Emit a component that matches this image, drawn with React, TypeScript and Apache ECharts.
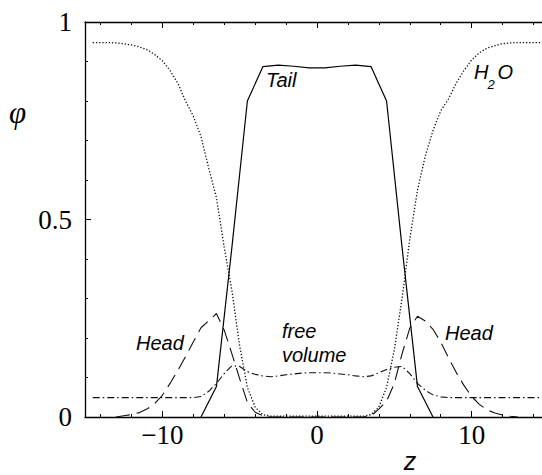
import React, { useEffect, useRef } from "react";
import * as echarts from "echarts";

// Shared z grid (nm-like units), step 0.5
const zGrid = [
  -14.5, -14, -13.5, -13, -12.5, -12, -11.5, -11, -10.5, -10, -9.5, -9, -8.5, -8, -7.5, -7, -6.5, -6, -5.5, -5,
  -4.5, -4, -3.5, -3, -2.5, -2, -1.5, -1, -0.5, 0, 0.5, 1, 1.5, 2, 2.5, 3, 3.5, 4, 4.5, 5,
  5.5, 6, 6.5, 7, 7.5, 8, 8.5, 9, 9.5, 10, 10.5, 11, 11.5, 12, 12.5, 13, 13.5, 14, 14.5,
];

const h2oPhi = [
  0.948, 0.948, 0.948, 0.947, 0.945, 0.942, 0.937, 0.93, 0.918, 0.902, 0.877, 0.845, 0.8, 0.762, 0.71, 0.63, 0.555, 0.43, 0.32, 0.18,
  0.075, 0.025, 0.006, 0.002, 0.002, 0.002, 0.002, 0.002, 0.002, 0.002, 0.002, 0.002, 0.002, 0.002, 0.002, 0.002, 0.006, 0.025, 0.075, 0.17,
  0.3, 0.45, 0.575, 0.66, 0.725, 0.775, 0.805, 0.845, 0.877, 0.904, 0.922, 0.934, 0.94, 0.945, 0.947, 0.948, 0.948, 0.948, 0.948,
];

const headPhi = [
  null, null, null, 0, 0.003, 0.006, 0.011, 0.02, 0.034, 0.055, 0.085, 0.118, 0.153, 0.19, 0.226, 0.244, 0.262, 0.22, 0.16, 0.097,
  0.037, 0.012, 0.003, 0, 0, 0, 0, 0, 0, 0, 0, 0, 0, 0, 0, 0, 0.003, 0.02, 0.04, 0.085,
  0.16, 0.225, 0.255, 0.243, 0.222, 0.19, 0.15, 0.113, 0.08, 0.052, 0.032, 0.018, 0.01, 0.005, 0.002, 0, null, null, null,
];

const freePhi = [
  0.049, 0.049, 0.049, 0.049, 0.049, 0.049, 0.049, 0.049, 0.049, 0.049, 0.049, 0.049, 0.049, 0.049, 0.052, 0.065, 0.085, 0.11, 0.13, 0.128,
  0.115, 0.108, 0.104, 0.102, 0.104, 0.107, 0.109, 0.111, 0.112, 0.112, 0.112, 0.111, 0.109, 0.107, 0.104, 0.102, 0.104, 0.112, 0.12, 0.126,
  0.128, 0.11, 0.085, 0.068, 0.056, 0.051, 0.049, 0.049, 0.049, 0.049, 0.049, 0.049, 0.049, 0.049, 0.049, 0.049, 0.049, 0.049, 0.049,
];

// Tail profile sampled at half-integers
const tailZ = [-7.5, -6.5, -5.5, -4.5, -3.5, -2.5, -1.5, -0.5, 0.5, 1.5, 2.5, 3.5, 4.5, 5.5, 6.5, 7.5];
const tailPhi = [0, 0.077, 0.43, 0.8, 0.887, 0.891, 0.888, 0.884, 0.884, 0.888, 0.891, 0.887, 0.8, 0.43, 0.077, 0];

const xMajor = [-10, 0, 10];
const xMinor = [-14, -12, -10, -8, -6, -4, -2, 0, 2, 4, 6, 8, 10, 12, 14];
const yMajor = [0, 0.5, 1];
const yMinor = [0, 0.1, 0.2, 0.3, 0.4, 0.5, 0.6, 0.7, 0.8, 0.9, 1];

const zip = (xs: number[], ys: (number | null)[]) =>
  xs.map((x, i) => [x, ys[i]]).filter((p) => p[1] !== null);

const SERIF = "'Liberation Serif', 'Times New Roman', serif";
const SANS = "'Liberation Sans', Arial, sans-serif";

export default function App() {
  const ref = useRef<HTMLDivElement>(null);
  useEffect(() => {
    if (!ref.current) return;
    const chart = echarts.init(ref.current, undefined, { renderer: "svg" });
    const axisLine = { show: true, onZero: false, lineStyle: { color: "#000", width: 1.3 } };
    const noLine = { show: false, onZero: false };
    const xBase = { type: "value", min: -15, max: 14.55, splitLine: { show: false } };
    const yBase = { type: "value", min: 0, max: 1, splitLine: { show: false } };
    const fmtX = (v: number) => (v < 0 ? "\u2212" + Math.abs(v) : String(v));
    const fmtY = (v: number) => (v === 0 ? "0" : v === 1 ? "1" : "0.5");
    const lbl = { fontFamily: SERIF, fontSize: 27, color: "#000" };
    const tick = (len: number, vals: number[]) => ({
      show: true,
      inside: true,
      length: len,
      customValues: vals,
      lineStyle: { color: "#000", width: 1 },
    });
    const ital = `italic 20px ${SANS}`;

    chart.setOption({
      animation: false,
      backgroundColor: "#fff",
      grid: { left: 85, top: 22, width: 457, height: 395 },
      xAxis: [
        {
          ...xBase,
          position: "bottom",
          axisLine,
          axisTick: tick(3, xMinor),
          axisLabel: { show: true, customValues: xMajor, formatter: fmtX, margin: 4, ...lbl },
        },
        { ...xBase, position: "bottom", axisLine: noLine, axisTick: tick(6, xMajor), axisLabel: { show: false } },
        { ...xBase, position: "top", axisLine, axisTick: tick(3, xMinor), axisLabel: { show: false } },
        { ...xBase, position: "top", axisLine: noLine, axisTick: tick(6, xMajor), axisLabel: { show: false } },
      ],
      yAxis: [
        {
          ...yBase,
          position: "left",
          axisLine,
          axisTick: tick(3, yMinor),
          axisLabel: {
            show: true,
            customValues: yMajor,
            formatter: fmtY,
            margin: 13,
            padding: [0, 0, 9, 0],
            ...lbl,
          },
        },
        { ...yBase, position: "left", axisLine: noLine, axisTick: tick(6, yMajor), axisLabel: { show: false } },
      ],
      series: [
        {
          name: "H2O",
          type: "line",
          data: zip(zGrid, h2oPhi),
          showSymbol: false,
          symbol: "none",
          lineStyle: { color: "#111", width: 1.3, type: [1.3, 1.9] },
        },
        {
          name: "Head",
          type: "line",
          data: zip(zGrid, headPhi),
          showSymbol: false,
          symbol: "none",
          lineStyle: { color: "#111", width: 1.1, type: [14, 7] },
        },
        {
          name: "free volume",
          type: "line",
          data: zip(zGrid, freePhi),
          showSymbol: false,
          symbol: "none",
          lineStyle: { color: "#111", width: 1.1, type: [7, 3, 1.5, 3] },
        },
        {
          name: "Tail",
          type: "line",
          data: zip(tailZ, tailPhi),
          showSymbol: false,
          symbol: "none",
          lineStyle: { color: "#000", width: 1.2, type: "solid" },
        },
      ],
      graphic: [
        { type: "text", left: 9, top: 97, style: { text: "\u03c6", font: `italic 31px ${SERIF}`, fill: "#000" } },
        { type: "text", x: 410, y: 461, style: { text: "z", font: `italic 25px ${SANS}`, fill: "#000", align: "center", verticalAlign: "middle" } },
        { type: "text", x: 266, y: 80, style: { text: "Tail", font: ital, fill: "#000", verticalAlign: "middle" } },
        { type: "text", x: 474, y: 72, style: { text: "H", font: ital, fill: "#000", verticalAlign: "middle" } },
        { type: "text", x: 487.5, y: 84.5, style: { text: "2", font: `italic 13px ${SANS}`, fill: "#000", verticalAlign: "middle" } },
        { type: "text", x: 497.5, y: 72, style: { text: "O", font: ital, fill: "#000", verticalAlign: "middle" } },
        { type: "text", x: 136, y: 342.5, style: { text: "Head", font: ital, fill: "#000", verticalAlign: "middle" } },
        { type: "text", x: 445, y: 333, style: { text: "Head", font: ital, fill: "#000", verticalAlign: "middle" } },
        { type: "text", x: 282, y: 331, style: { text: "free", font: ital, fill: "#000", verticalAlign: "middle" } },
        { type: "text", x: 282, y: 355, style: { text: "volume", font: ital, fill: "#000", verticalAlign: "middle" } },
      ],
    });
    return () => chart.dispose();
  }, []);

  return (
    <div
      ref={ref}
      style={{ position: "fixed", left: 0, top: 0, width: 542, height: 475, background: "#fff" }}
    />
  );
}
